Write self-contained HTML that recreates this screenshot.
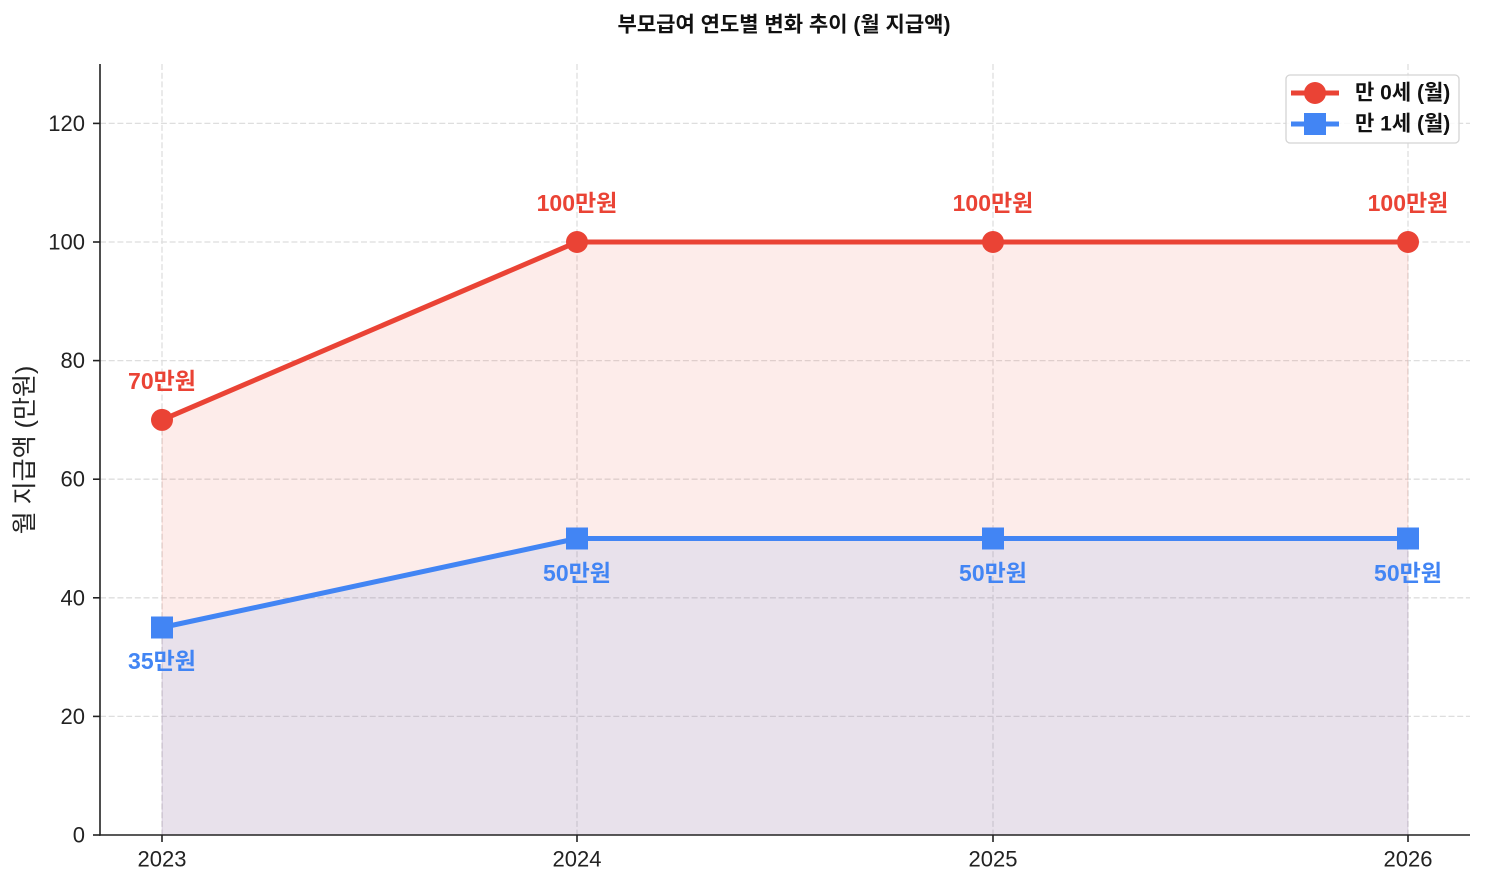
<!DOCTYPE html>
<html>
<head>
<meta charset="utf-8">
<style>
  html,body{margin:0;padding:0;background:#ffffff;}
  svg{display:block;}
  text{font-family:"Liberation Sans","Noto Sans CJK KR",sans-serif;}
</style>
</head>
<body>
<svg width="1485" height="885" viewBox="0 0 1485 885" xmlns="http://www.w3.org/2000/svg">
  <rect x="0" y="0" width="1485" height="885" fill="#ffffff"/>

  <!-- Title -->
  <text x="784" y="25" text-anchor="middle" dominant-baseline="central" font-size="21" font-weight="bold" fill="#111">부모급여 연도별 변화 추이 (월 지급액)</text>

  <!-- Grid -->
  <g stroke="#dedede" stroke-width="1.3" stroke-dasharray="6,2.7" fill="none">
    <line x1="100" y1="716.4" x2="1470" y2="716.4"/>
    <line x1="100" y1="597.8" x2="1470" y2="597.8"/>
    <line x1="100" y1="479.2" x2="1470" y2="479.2"/>
    <line x1="100" y1="360.6" x2="1470" y2="360.6"/>
    <line x1="100" y1="242" x2="1470" y2="242"/>
    <line x1="100" y1="123.4" x2="1470" y2="123.4"/>
    <line x1="162" y1="64" x2="162" y2="835"/>
    <line x1="577" y1="64" x2="577" y2="835"/>
    <line x1="993" y1="64" x2="993" y2="835"/>
    <line x1="1408" y1="64" x2="1408" y2="835"/>
  </g>

  <!-- Fills -->
  <polygon points="162,835 162,419.9 577,242 993,242 1408,242 1408,835" fill="#EA4335" fill-opacity="0.1" stroke="#EA4335" stroke-opacity="0.1" stroke-width="1"/>
  <polygon points="162,835 162,627.5 577,538.5 993,538.5 1408,538.5 1408,835" fill="#4285F4" fill-opacity="0.11" stroke="#4285F4" stroke-opacity="0.1" stroke-width="1"/>

  <!-- Red series -->
  <polyline points="162,419.9 577,242 993,242 1408,242" fill="none" stroke="#EA4335" stroke-width="5" stroke-linejoin="round" stroke-linecap="butt"/>
  <g fill="#EA4335">
    <circle cx="162" cy="419.9" r="11"/>
    <circle cx="577" cy="242" r="11"/>
    <circle cx="993" cy="242" r="11"/>
    <circle cx="1408" cy="242" r="11"/>
  </g>

  <!-- Blue series -->
  <polyline points="162,627.5 577,538.5 993,538.5 1408,538.5" fill="none" stroke="#4285F4" stroke-width="5" stroke-linejoin="round"/>
  <g fill="#4285F4">
    <rect x="151" y="616.5" width="22" height="22"/>
    <rect x="566" y="527.5" width="22" height="22"/>
    <rect x="982" y="527.5" width="22" height="22"/>
    <rect x="1397" y="527.5" width="22" height="22"/>
  </g>

  <!-- Annotations -->
  <g font-size="23" font-weight="bold" fill="#EA4335" text-anchor="middle" dominant-baseline="central">
    <text x="162" y="381">70만원</text>
    <text x="577" y="203">100만원</text>
    <text x="993" y="203">100만원</text>
    <text x="1408" y="203">100만원</text>
  </g>
  <g font-size="23" font-weight="bold" fill="#4285F4" text-anchor="middle" dominant-baseline="central">
    <text x="162" y="661">35만원</text>
    <text x="577" y="573">50만원</text>
    <text x="993" y="573">50만원</text>
    <text x="1408" y="573">50만원</text>
  </g>

  <!-- Axes spines -->
  <g stroke="#222" stroke-width="1.6" fill="none">
    <line x1="100" y1="64" x2="100" y2="835.8"/>
    <line x1="99.2" y1="835" x2="1470" y2="835"/>
  </g>
  <!-- Ticks -->
  <g stroke="#222" stroke-width="1.6">
    <line x1="93" y1="835" x2="100" y2="835"/>
    <line x1="93" y1="716.4" x2="100" y2="716.4"/>
    <line x1="93" y1="597.8" x2="100" y2="597.8"/>
    <line x1="93" y1="479.2" x2="100" y2="479.2"/>
    <line x1="93" y1="360.6" x2="100" y2="360.6"/>
    <line x1="93" y1="242" x2="100" y2="242"/>
    <line x1="93" y1="123.4" x2="100" y2="123.4"/>
    <line x1="162" y1="835" x2="162" y2="842"/>
    <line x1="577" y1="835" x2="577" y2="842"/>
    <line x1="993" y1="835" x2="993" y2="842"/>
    <line x1="1408" y1="835" x2="1408" y2="842"/>
  </g>
  <!-- Tick labels -->
  <g font-size="22" fill="#222" text-anchor="end" dominant-baseline="central">
    <text x="85" y="835">0</text>
    <text x="85" y="716.4">20</text>
    <text x="85" y="597.8">40</text>
    <text x="85" y="479.2">60</text>
    <text x="85" y="360.6">80</text>
    <text x="85" y="242">100</text>
    <text x="85" y="123.4">120</text>
  </g>
  <g font-size="22" fill="#222" text-anchor="middle" dominant-baseline="central">
    <text x="162" y="859">2023</text>
    <text x="577" y="859">2024</text>
    <text x="993" y="859">2025</text>
    <text x="1408" y="859">2026</text>
  </g>

  <!-- Y label -->
  <text x="25" y="450" font-size="25" fill="#222" text-anchor="middle" dominant-baseline="central" transform="rotate(-90 25 450)">월 지급액 (만원)</text>

  <!-- Legend -->
  <rect x="1286" y="75" width="173" height="68" rx="4" ry="4" fill="#ffffff" fill-opacity="0.85" stroke="#d4d4d4" stroke-width="1.3"/>
  <line x1="1291" y1="93" x2="1339" y2="93" stroke="#EA4335" stroke-width="5"/>
  <circle cx="1315" cy="93" r="11" fill="#EA4335"/>
  <line x1="1291" y1="124" x2="1339" y2="124" stroke="#4285F4" stroke-width="5"/>
  <rect x="1304" y="113" width="22" height="22" fill="#4285F4"/>
  <g font-size="21" font-weight="bold" fill="#111" dominant-baseline="central">
    <text x="1355" y="93">만 0세 (월)</text>
    <text x="1355" y="124">만 1세 (월)</text>
  </g>
</svg>
</body>
</html>
